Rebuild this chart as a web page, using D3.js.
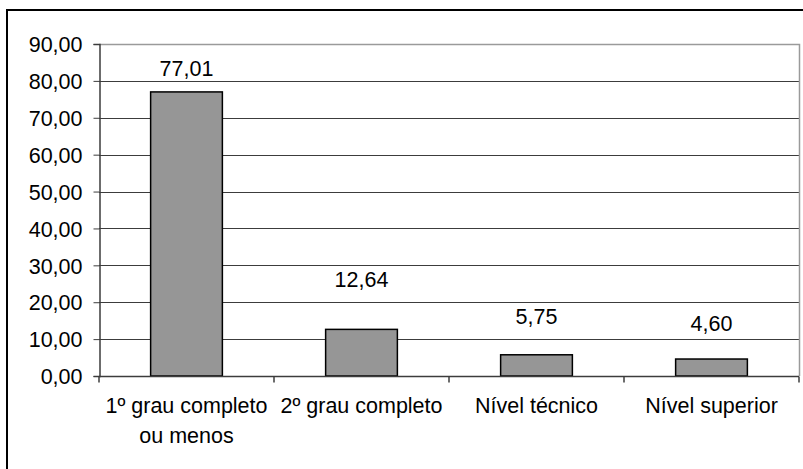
<!DOCTYPE html>
<html><head><meta charset="utf-8">
<script src="https://cdn.jsdelivr.net/npm/d3@7"></script>
<style>body{margin:0;background:#fff}svg{display:block}</style>
</head><body>
<svg id="c" width="803" height="469"></svg>
<script>
const categories = [["1º grau completo","ou menos"],["2º grau completo"],["Nível técnico"],["Nível superior"]];
const values = [77.01, 12.64, 5.75, 4.60];
const valueLabels = ["77,01","12,64","5,75","4,60"];
const yTicks = [0,10,20,30,40,50,60,70,80,90];
const labelLift = [16, 42, 31, 28];

const svg = d3.select("#c");
const font = "'Liberation Sans', Arial, sans-serif";
const fs = 21.5;
const L = 99, R = 799, T = 44, B = 376;

svg.append("rect").attr("x",7).attr("y",10).attr("width",820).attr("height",500)
  .attr("fill","#fff").attr("stroke","#000").attr("stroke-width",2);

const x = d3.scaleBand().domain(d3.range(categories.length)).range([L,R]).padding(0);
const y = d3.scaleLinear().domain([0,90]).range([B,T]);
const fmt = d => d3.format(".2f")(d).replace(".",",");

// gridlines
svg.append("g").selectAll("line").data(yTicks.filter(t=>t>0 && t<90)).join("line")
  .attr("x1",L).attr("x2",R).attr("y1",d=>Math.round(y(d))+0.5).attr("y2",d=>Math.round(y(d))+0.5)
  .attr("stroke","#3c3c3c").attr("stroke-width",1);

// plot border top/right
svg.append("path").attr("d",`M${L},${T+0.5}H${R+0.5}V${B}`).attr("fill","none")
  .attr("stroke","#9a9a9a").attr("stroke-width",1.5);

// bars
const bw = x.bandwidth()*0.41;
svg.append("g").selectAll("rect").data(values).join("rect")
  .attr("x",(d,i)=>x(i)+x.bandwidth()/2-bw/2)
  .attr("width",bw)
  .attr("y",d=>y(d)).attr("height",d=>y(0)-y(d))
  .attr("fill","#969696").attr("stroke","#000").attr("stroke-width",1.5);

// value labels
svg.append("g").selectAll("text").data(values).join("text")
  .attr("x",(d,i)=>x(i)+x.bandwidth()/2)
  .attr("y",(d,i)=>y(d)-labelLift[i])
  .attr("text-anchor","middle").attr("font-family",font).attr("font-size",fs).attr("fill","#000")
  .text((d,i)=>valueLabels[i]);

// y axis
const ya = svg.append("g").attr("transform",`translate(${L+0.5},0)`)
  .call(d3.axisLeft(y).tickValues(yTicks).tickFormat(fmt).tickSize(6).tickPadding(11));
ya.select(".domain").attr("stroke","#3c3c3c").attr("stroke-width",1.5);
ya.selectAll(".tick line").attr("stroke","#3c3c3c");
ya.selectAll("text").attr("font-family",font).attr("font-size",fs).attr("fill","#000").attr("dy","0.36em");

// x axis
const xa = svg.append("g").attr("transform",`translate(0,${B+0.5})`);
xa.append("line").attr("x1",L).attr("x2",R).attr("stroke","#3c3c3c").attr("stroke-width",1.5);
xa.selectAll("line.tk").data(d3.range(categories.length+1)).join("line").attr("class","tk")
  .attr("x1",i=>L+i*x.step()).attr("x2",i=>L+i*x.step()).attr("y1",0).attr("y2",6)
  .attr("stroke","#3c3c3c").attr("stroke-width",1.5);
const ct = svg.append("g").selectAll("text").data(categories).join("text")
  .attr("text-anchor","middle").attr("font-family",font).attr("font-size",fs).attr("fill","#000");
ct.each(function(lines,i){
  d3.select(this).selectAll("tspan").data(lines).join("tspan")
    .attr("x",x(i)+x.bandwidth()/2).attr("y",(d,j)=>413+j*30).text(d=>d);
});
</script>
</body></html>
